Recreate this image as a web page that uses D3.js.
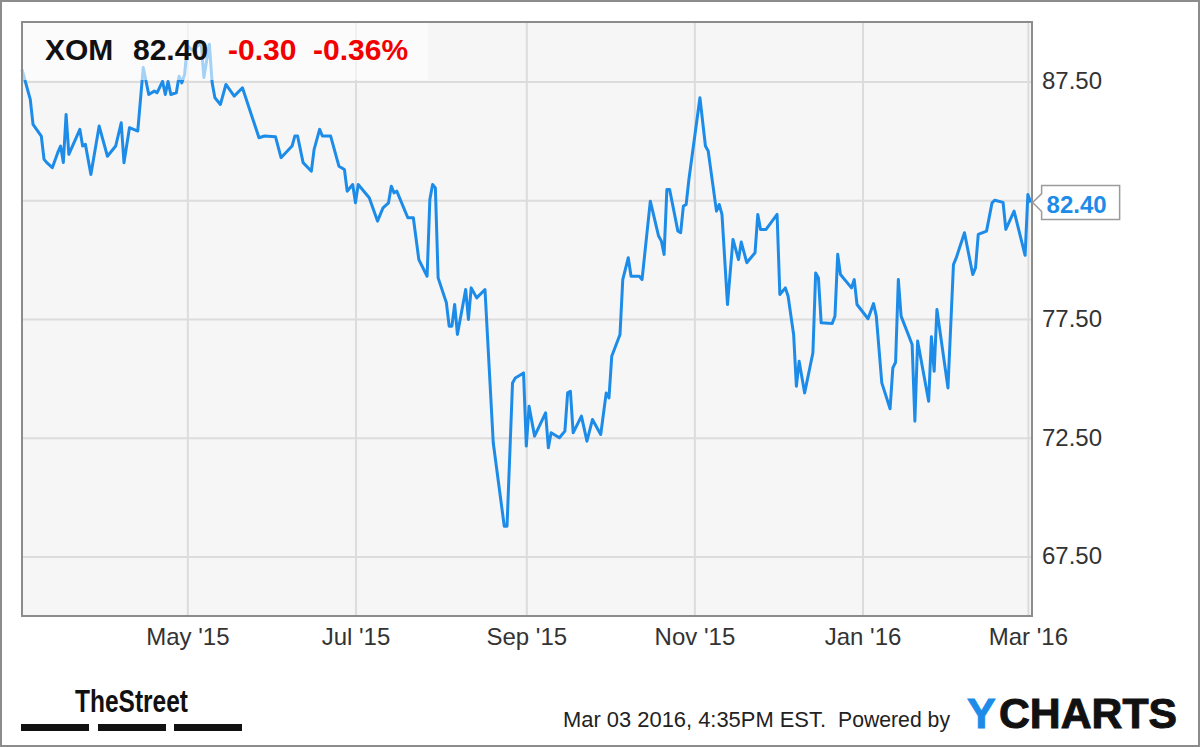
<!DOCTYPE html>
<html>
<head>
<meta charset="utf-8">
<script src="https://cdn.jsdelivr.net/npm/d3@7"></script>
<style>
  body { margin: 0; background: #fff; }
  svg text { font-family: "Liberation Sans", Arial, sans-serif; }
</style>
</head>
<body>
<script>
// XOM daily closes
var dates = [
  "2015-03-02","2015-03-05","2015-03-06","2015-03-09","2015-03-10","2015-03-11","2015-03-13","2015-03-15",
  "2015-03-16","2015-03-17","2015-03-18","2015-03-19","2015-03-23","2015-03-24","2015-03-25","2015-03-27",
  "2015-03-30","2015-04-02","2015-04-05","2015-04-07","2015-04-08","2015-04-10","2015-04-13","2015-04-15",
  "2015-04-17","2015-04-19","2015-04-20","2015-04-22","2015-04-23","2015-04-24","2015-04-25","2015-04-27",
  "2015-04-28","2015-04-29","2015-04-30","2015-05-01","2015-05-03","2015-05-06","2015-05-07","2015-05-09",
  "2015-05-10","2015-05-11","2015-05-13","2015-05-15","2015-05-18","2015-05-21","2015-05-23","2015-05-27",
  "2015-05-29","2015-06-02","2015-06-04","2015-06-08","2015-06-09","2015-06-10","2015-06-12","2015-06-15",
  "2015-06-16","2015-06-18","2015-06-19","2015-06-22","2015-06-25","2015-06-27","2015-06-28","2015-06-30",
  "2015-07-01","2015-07-02","2015-07-06","2015-07-09","2015-07-11","2015-07-13","2015-07-14","2015-07-15",
  "2015-07-16","2015-07-20","2015-07-22","2015-07-24","2015-07-27","2015-07-28","2015-07-29","2015-07-30",
  "2015-07-31","2015-08-03","2015-08-04","2015-08-05","2015-08-06","2015-08-07","2015-08-10","2015-08-11",
  "2015-08-12","2015-08-14","2015-08-17","2015-08-20","2015-08-24","2015-08-25","2015-08-27","2015-08-28",
  "2015-08-31","2015-09-01","2015-09-02","2015-09-04","2015-09-08","2015-09-09","2015-09-10","2015-09-13",
  "2015-09-15","2015-09-16","2015-09-17","2015-09-18","2015-09-21","2015-09-23","2015-09-25","2015-09-28",
  "2015-09-30","2015-10-01","2015-10-02","2015-10-05","2015-10-06","2015-10-08","2015-10-09","2015-10-12",
  "2015-10-13","2015-10-16","2015-10-19","2015-10-20","2015-10-21","2015-10-22","2015-10-23","2015-10-26",
  "2015-10-27","2015-10-28","2015-10-29","2015-10-30","2015-11-03","2015-11-05","2015-11-06","2015-11-09",
  "2015-11-10","2015-11-11","2015-11-13","2015-11-15","2015-11-17","2015-11-18","2015-11-20","2015-11-23",
  "2015-11-24","2015-11-25","2015-11-27","2015-12-01","2015-12-02","2015-12-04","2015-12-05","2015-12-07",
  "2015-12-08","2015-12-09","2015-12-11","2015-12-14","2015-12-15","2015-12-16","2015-12-17","2015-12-21",
  "2015-12-22","2015-12-23","2015-12-24","2015-12-28","2015-12-29","2015-12-30","2016-01-03","2016-01-05",
  "2016-01-06","2016-01-08","2016-01-11","2016-01-12","2016-01-13","2016-01-14","2016-01-15","2016-01-19",
  "2016-01-20","2016-01-21","2016-01-25","2016-01-26","2016-01-27","2016-01-28","2016-02-01","2016-02-03",
  "2016-02-04","2016-02-07","2016-02-10","2016-02-11","2016-02-12","2016-02-15","2016-02-17","2016-02-18",
  "2016-02-21","2016-02-22","2016-02-25","2016-02-29","2016-03-01","2016-03-02"
];
var closes = [
  88.00,86.74,85.69,85.20,84.22,84.08,83.87,84.51,
  84.78,84.09,86.11,84.43,85.48,84.78,84.85,83.58,
  85.62,84.35,84.78,85.76,84.08,85.55,85.41,88.08,
  86.95,87.09,87.02,87.50,86.95,87.50,86.95,87.02,
  87.72,87.44,87.79,89.00,88.80,89.13,87.66,89.06,
  87.44,86.81,86.53,87.37,86.88,87.23,86.53,85.13,
  85.20,85.17,84.29,84.78,85.20,85.20,84.08,83.72,
  84.64,85.48,85.20,85.20,83.93,83.79,82.88,83.16,
  82.39,83.16,82.60,81.62,82.18,82.39,83.09,82.81,
  82.88,81.76,81.76,80.00,79.30,82.53,83.16,83.02,
  79.23,78.18,77.20,77.20,78.11,76.85,78.74,77.48,
  78.81,78.39,78.74,72.29,68.78,68.78,74.81,75.02,
  75.23,72.15,73.83,72.57,73.55,72.08,72.71,72.50,
  72.78,74.39,74.46,72.71,73.41,72.36,73.27,72.64,
  74.39,74.18,75.93,76.85,79.16,80.08,79.30,79.30,
  79.16,82.46,80.99,80.78,80.22,82.95,82.95,81.20,
  81.13,82.25,82.32,83.37,86.81,84.78,84.57,82.04,
  82.32,81.90,78.11,80.85,80.00,80.74,79.87,80.29,
  81.90,81.27,81.27,81.90,78.53,78.81,78.46,76.85,
  74.67,75.72,74.39,76.08,79.44,79.23,77.34,77.31,
  77.62,80.22,79.37,78.81,79.16,78.11,77.51,78.15,
  77.62,74.81,73.72,75.44,75.68,79.16,77.62,76.43,
  73.20,76.57,74.04,76.75,75.30,77.90,74.60,79.79,
  80.07,81.13,79.37,79.65,81.06,81.20,82.39,82.50,
  82.41,81.27,82.04,80.18,82.74,82.40
];
var yTicks = [67.5, 72.5, 77.5, 82.5, 87.5];
var xTicks = ["2015-05-01","2015-07-01","2015-09-01","2015-11-01","2016-01-01","2016-03-01"];
var header = {ticker: "XOM", last: "82.40", change: "-0.30", pct: "-0.36%"};
var stamp = "Mar 03 2016, 4:35PM EST.";

var W = 1200, H = 747;
var margin = {top: 22, left: 22},
    width = 1010,
    height = 594;

var parse = d3.timeParse("%Y-%m-%d");
var data = dates.map(function(d, i) { return {date: parse(d), close: closes[i]}; });
var last = data[data.length - 1];

var svg = d3.select("body").append("svg")
    .attr("width", W)
    .attr("height", H);

// outer frame
svg.append("rect")
    .attr("x", 1).attr("y", 1).attr("width", W - 2).attr("height", H - 2)
    .attr("fill", "#fff").attr("stroke", "#8c8c8c").attr("stroke-width", 2);

var g = svg.append("g")
    .attr("transform", "translate(" + margin.left + "," + margin.top + ")");

var x = d3.scaleTime()
    .domain([new Date(2015, 2, 2), new Date(2016, 2, 2, 12)])
    .range([0, width]);
var y = d3.scaleLinear()
    .domain([65, 90])
    .range([height, 0]);

g.append("rect")
    .attr("width", width).attr("height", height)
    .attr("fill", "#f6f6f6");

// grid
g.append("g")
    .attr("class", "grid")
    .call(d3.axisLeft(y).tickValues(yTicks).tickSize(-width).tickFormat(""))
    .call(function(s) { s.select(".domain").remove(); });
g.append("g")
    .attr("class", "grid")
    .attr("transform", "translate(0," + height + ")")
    .call(d3.axisBottom(x).tickValues(xTicks.map(parse)).tickSize(-height).tickFormat(""))
    .call(function(s) { s.select(".domain").remove(); });
g.selectAll(".grid line").attr("stroke", "#dcdcdc").attr("stroke-width", 2);

var line = d3.line()
    .x(function(d) { return x(d.date); })
    .y(function(d) { return y(d.close); });

g.append("path")
    .datum(data)
    .attr("fill", "none")
    .attr("stroke", "#1d8ce8")
    .attr("stroke-width", 3)
    .attr("stroke-linejoin", "round")
    .attr("d", line);

// header box over the line
g.append("rect")
    .attr("width", 406).attr("height", 58)
    .attr("fill", "#fff").attr("fill-opacity", 0.6);

var head = g.append("text")
    .attr("y", 38)
    .attr("font-size", 30)
    .attr("font-weight", "bold");
head.append("tspan").attr("x", 23).attr("fill", "#111").text(header.ticker);
head.append("tspan").attr("x", 111).attr("fill", "#111").text(header.last);
head.append("tspan").attr("x", 206).attr("fill", "#f20000").text(header.change);
head.append("tspan").attr("x", 291).attr("fill", "#f20000").text(header.pct);

// plot frame
g.append("rect")
    .attr("width", width).attr("height", height)
    .attr("fill", "none").attr("stroke", "#8c8c8c").attr("stroke-width", 2);

// axes (the tick hidden under the last-price flag is dropped)
var shownY = yTicks.filter(function(t) { return Math.abs(y(t) - y(last.close)) > 30; });
var yAxis = g.append("g")
    .attr("transform", "translate(" + width + ",0)")
    .call(d3.axisRight(y).tickValues(shownY).tickSize(0).tickPadding(10).tickFormat(d3.format(".2f")));
yAxis.select(".domain").remove();
yAxis.selectAll("text")
    .attr("font-size", 24).attr("fill", "#333")
    .attr("font-family", "Liberation Sans, Arial, sans-serif")
    .attr("dy", "0.3em");

var xAxis = g.append("g")
    .attr("transform", "translate(0," + height + ")")
    .call(d3.axisBottom(x).tickValues(xTicks.map(parse)).tickSize(0).tickPadding(12).tickFormat(d3.timeFormat("%b '%y")));
xAxis.select(".domain").remove();
xAxis.selectAll("text")
    .attr("font-size", 24).attr("fill", "#333")
    .attr("font-family", "Liberation Sans, Arial, sans-serif")
    .attr("dy", "0.71em");

// last price flag
var lx = x(last.date) + 2, ly = y(last.close);
g.append("path")
    .attr("d", "M" + lx + "," + ly + "l9,-9v-8h78v34h-78v-8z")
    .attr("fill", "#fff").attr("stroke", "#9a9a9a").attr("stroke-width", 1.5);
g.append("text")
    .attr("x", lx + 14).attr("y", ly + 10)
    .attr("font-size", 24).attr("font-weight", "bold")
    .attr("fill", "#1d8ce8")
    .text(d3.format(".2f")(last.close));

// footer
svg.append("text")
    .attr("x", 75).attr("y", 712)
    .attr("font-size", 32).attr("font-weight", "bold")
    .attr("fill", "#111")
    .attr("textLength", 113).attr("lengthAdjust", "spacingAndGlyphs")
    .text("TheStreet");
svg.selectAll(".bar")
    .data([21, 98, 174])
    .enter().append("rect")
    .attr("x", function(d) { return d; })
    .attr("y", 724).attr("width", 68).attr("height", 7)
    .attr("fill", "#111");

svg.append("text")
    .attr("x", 563).attr("y", 727)
    .attr("font-size", 22).attr("fill", "#222")
    .attr("textLength", 263).attr("lengthAdjust", "spacingAndGlyphs")
    .text(stamp);
svg.append("text")
    .attr("x", 838).attr("y", 727)
    .attr("font-size", 22).attr("fill", "#222")
    .attr("textLength", 112).attr("lengthAdjust", "spacingAndGlyphs")
    .text("Powered by");
svg.append("text")
    .attr("x", 967).attr("y", 728)
    .attr("font-size", 43).attr("font-weight", "bold")
    .attr("fill", "#1d8ce8").attr("stroke", "#1d8ce8").attr("stroke-width", 1)
    .text("Y");
svg.append("text")
    .attr("x", 999).attr("y", 728)
    .attr("font-size", 43).attr("font-weight", "bold")
    .attr("fill", "#111").attr("stroke", "#111").attr("stroke-width", 1)
    .attr("textLength", 178).attr("lengthAdjust", "spacingAndGlyphs")
    .text("CHARTS");
</script>
</body>
</html>
